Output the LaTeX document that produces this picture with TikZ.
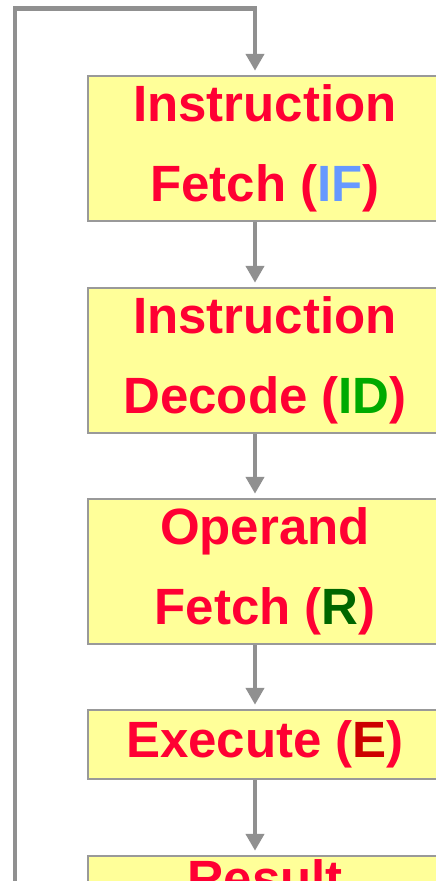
\documentclass[tikz,border=0pt]{standalone}
\usepackage{fontspec}
\setmainfont{Liberation Sans}
\usepackage{xcolor}
\usetikzlibrary{positioning,arrows.meta}

\definecolor{stagered}{HTML}{FF0033}
\definecolor{ifblue}{HTML}{6699FF}
\definecolor{idgreen}{HTML}{00AA00}
\definecolor{rgreen}{HTML}{006600}
\definecolor{exred}{HTML}{CC0000}
\definecolor{boxyellow}{HTML}{FFFF99}
\definecolor{boxgray}{HTML}{999999}
\definecolor{flowgray}{HTML}{909090}

\begin{document}
\begin{tikzpicture}[x=1pt,y=-1pt,>={Triangle[width=18pt 0 0,length=17pt 0 0]}]
  \tikzstyle{stage}=[draw=boxgray,line width=2.5pt,fill=boxyellow,text=stagered,minimum width=354pt,
    align=center,font=\fontsize{51pt}{80pt}\selectfont\bfseries]
  \tikzstyle{flow}=[->,draw=flowgray,line width=4.5pt,shorten >=4pt]

  \useasboundingbox (0,0) rectangle (436,881);
  \clip (0,0) rectangle (436,881);

  \node[stage,minimum height=145pt] (IF) at (265,148.5) {Instruction\\Fetch (\textcolor{ifblue}{IF})};
  \node[stage,minimum height=145pt] (ID) [below=64.5pt of IF] {Instruction\\Decode (\textcolor{idgreen}{ID})};
  \node[stage,minimum height=145pt] (R)  [below=63.5pt of ID] {Operand\\Fetch (\textcolor{rgreen}{R})};
  \node[stage,minimum height=69pt]  (E)  [below=63.5pt of R]  {Execute (\textcolor{exred}{E})};
  \node[stage,minimum height=145pt] (RS) [below=74.5pt of E]  {Result\\\strut};

  \coordinate (loopstart) at (15,900);
  \coordinate (loopcorner) at (255,8.5);

  \draw[flow] ([xshift=-10pt]IF.south) -- ([xshift=-10pt]ID.north);
  \draw[flow] ([xshift=-10pt]ID.south) -- ([xshift=-10pt]R.north);
  \draw[flow] ([xshift=-10pt]R.south)  -- ([xshift=-10pt]E.north);
  \draw[flow] ([xshift=-10pt]E.south)  -- ([xshift=-10pt]RS.north);
  \draw[flow] (loopstart) |- (loopcorner) -- ([xshift=-10pt]IF.north);
\end{tikzpicture}
\end{document}
